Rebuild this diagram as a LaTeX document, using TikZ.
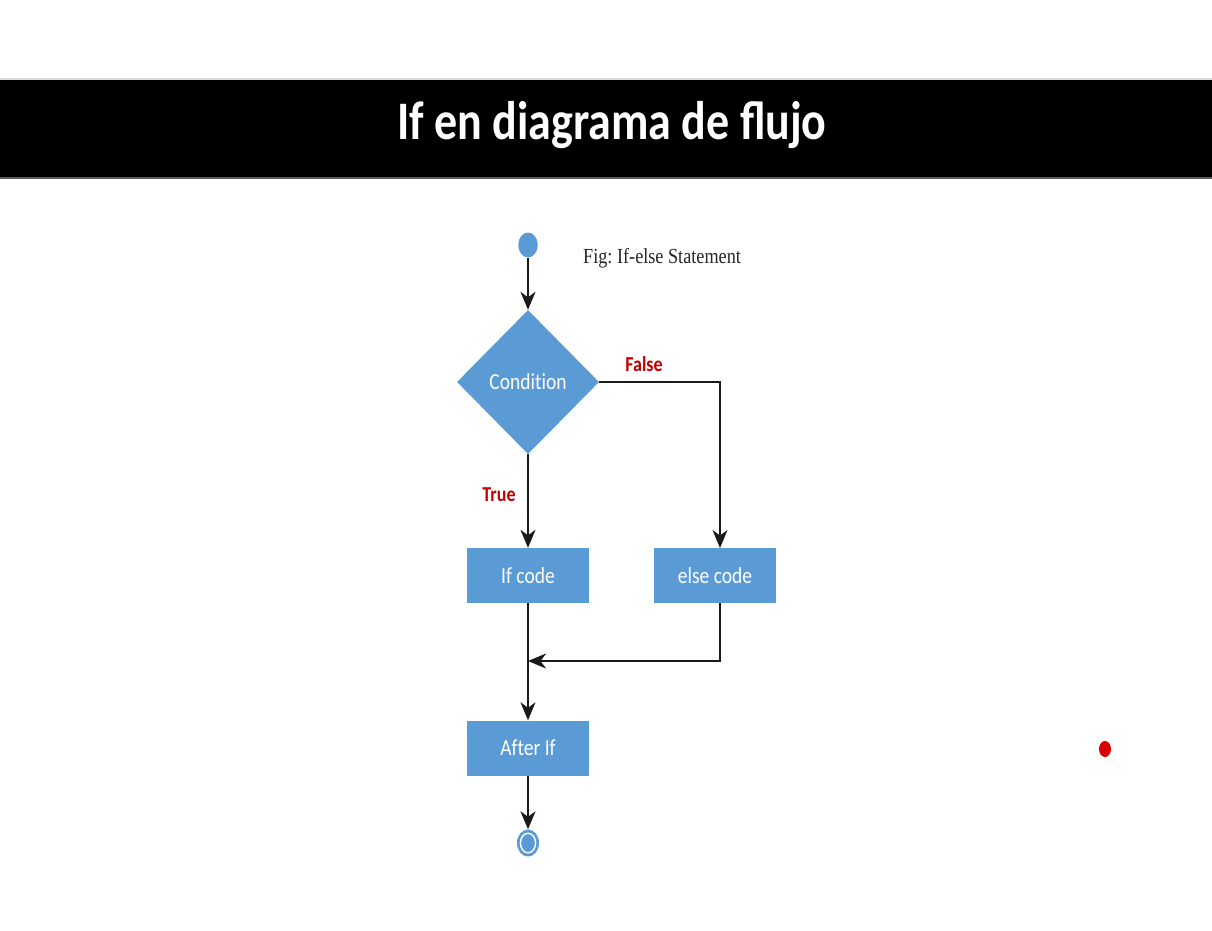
\documentclass[tikz,border=0pt]{standalone}
\usepackage{fontspec}
\usepackage{graphicx}
\setmainfont{Carlito}
\newfontfamily\noligfont{Carlito}[RawFeature={-liga;-clig;-calt;-dlig}]
\newfontfamily\capfont{Liberation Serif}
\usetikzlibrary{shapes.geometric,arrows.meta}
\definecolor{flowblue}{HTML}{5B9BD5}
\definecolor{flowred}{HTML}{C00000}
\definecolor{lineblack}{HTML}{1A1A1A}
\newcommand\vs[1]{\scalebox{1}[1.18]{#1}}
\frenchspacing
\begin{document}
\begin{tikzpicture}[x=1pt,y=-1pt,
  flowbox/.style={rectangle, fill=flowblue, minimum width=122pt, minimum height=55pt, inner sep=0pt, text=white, font=\noligfont\fontsize{19.5}{22}\selectfont},
  decision/.style={diamond, fill=flowblue, minimum width=142pt, minimum height=144pt, inner sep=0pt, text=white, font=\noligfont\fontsize{19.5}{22}\selectfont},
  flowlabel/.style={text=flowred, font=\bfseries\fontsize{18}{20}\selectfont, inner sep=0pt},
  conn/.style={draw=lineblack, line width=1.7pt},
  arr/.style={conn, -{Stealth[length=18pt,width=15pt,inset=5.5pt]}}
]
\useasboundingbox (0,0) rectangle (1212,930);
\fill[white] (0,0) rectangle (1212,930);
% title band
\fill[black!15] (0,77.5) rectangle (1212,80);
\fill[black] (0,80) rectangle (1212,177);
\fill[black!65] (0,177) rectangle (1212,179);
\node[anchor=base, text=white, inner sep=0pt, font=\bfseries\fontsize{46}{50}\selectfont] (title) at (612,139) {\vs{If en diagrama de flujo}};
% caption
\node[anchor=base west, inner sep=0pt, font=\capfont\fontsize{18.2}{20}\selectfont, text=black!85] (cap) at (583,263) {\vs{Fig: If-else Statement}};
% nodes
\node[ellipse, fill=flowblue, minimum width=19.5pt, minimum height=25pt, inner sep=0pt] (start) at (528,245) {};
\node[decision] (cond) at (528,382) {\vs{Condition}};
\node[flowbox] (ifc) at (528,575.5) {\vs{If code}};
\node[flowbox] (elsec) at (715,575.5) {\vs{else code}};
\node[flowbox] (after) at (528,748) {\vs{After If}};
\node[ellipse, fill=flowblue, minimum width=22pt, minimum height=27pt, inner sep=0pt] (stop) at (528,843) {};
\draw[white, line width=1.4pt] (stop.center) ellipse [x radius=7.6pt, y radius=9.8pt];
\coordinate (elsetop) at (720,548);
\coordinate (elsebot) at (720,603);
\coordinate (join) at (528,661);
% labels
\node[flowlabel, anchor=base] (flabel) at (644,371) {\vs{False}};
\node[flowlabel, anchor=base] (tlabel) at (499,501) {\vs{True}};
% connectors
\draw[arr] (start.south) -- (cond.north);
\draw[arr] (cond.east) -| (elsetop);
\draw[arr] (cond.south) -- (ifc.north);
\draw[arr] (ifc.south) -- (after.north);
\draw[arr] (elsebot) |- (join);
\draw[arr] (after.south) -- (stop.north);
% red dot
\fill[red!85!black] (1105,749) ellipse [x radius=6pt, y radius=8pt];
\end{tikzpicture}
\end{document}
